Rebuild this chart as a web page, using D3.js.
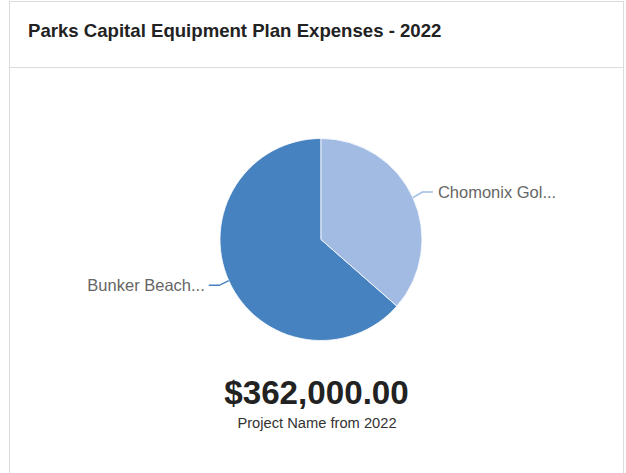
<!DOCTYPE html>
<html>
<head>
<meta charset="utf-8">
<script src="https://cdn.jsdelivr.net/npm/d3@7"></script>
<style>
  html, body { margin: 0; padding: 0; background: #fff; }
  svg { display: block; font-family: "Liberation Sans", Arial, sans-serif; }
</style>
</head>
<body>
<svg id="chart" width="626" height="473"></svg>
<script>
// Project expenses for 2022
const projects = ["Bunker Beach Park", "Chomonix Golf Course"];
const shortLabels = ["Bunker Beach...", "Chomonix Gol..."];
const amounts = [230000, 132000];
const sliceColors = ["#4682c0", "#a2bbe3"];

const title = "Parks Capital Equipment Plan Expenses - 2022";
const subtitle = "Project Name from 2022";

const svg = d3.select("#chart");
const W = 626, H = 473;

// card frame
svg.append("rect")
  .attr("x", 9.5).attr("y", 1.5)
  .attr("width", 614).attr("height", H + 10)
  .attr("fill", "#fff").attr("stroke", "#dcdcdf").attr("stroke-width", 1);
svg.append("line")
  .attr("x1", 9.5).attr("x2", 623.5).attr("y1", 67.5).attr("y2", 67.5)
  .attr("stroke", "#dcdcdf");

svg.append("text")
  .attr("x", 28).attr("y", 37)
  .attr("font-size", 18.6).attr("font-weight", "bold").attr("fill", "#222")
  .text(title);

// pie
const cx = 321, cy = 239.5, r = 101;
const data = projects.map((p, i) => ({ name: p, label: shortLabels[i], value: amounts[i], color: sliceColors[i] }));

// larger slice runs counter-clockwise from 12 o'clock
const pie = d3.pie().value(d => d.value).sort(null)
  .startAngle(2 * Math.PI).endAngle(0);
const arcs = pie(data);
const arc = d3.arc().innerRadius(0).outerRadius(r);

const g = svg.append("g").attr("transform", `translate(${cx},${cy})`);
g.selectAll("path.slice").data(arcs).join("path")
  .attr("class", "slice")
  .attr("d", arc)
  .attr("fill", d => d.data.color)
  .attr("stroke", "#fff").attr("stroke-width", 0.8);

// connector lines and labels
arcs.forEach((a, i) => {
  // point where the connector leaves the pie
  const ang = i === 0 ? 2 * Math.PI - 1.99 : 1.143;
  const x0 = Math.sin(ang) * r, y0 = -Math.cos(ang) * r;
  const right = x0 > 0;
  const x1 = x0 + (right ? 9.5 : -9.5), y1 = y0 + (right ? -5.5 : 4.7);
  const x2 = x1 + (right ? 10.5 : -10.5);
  g.append("path")
    .attr("d", `M${x0},${y0}L${x1},${y1}L${x2},${y1}`)
    .attr("fill", "none").attr("stroke", a.data.color).attr("stroke-width", 1.5);
  g.append("text")
    .attr("x", x2 + (right ? 5 : -4))
    .attr("y", y1)
    .attr("dy", "0.35em")
    .attr("text-anchor", right ? "start" : "end")
    .attr("font-size", 16.5).attr("fill", "#666")
    .text(a.data.label);
});

// total
const total = d3.sum(amounts);
const fmt = d3.format("$,.2f");
svg.append("text")
  .attr("x", 316.5).attr("y", 404)
  .attr("text-anchor", "middle")
  .attr("font-size", 33.2).attr("font-weight", "bold").attr("fill", "#222")
  .text(fmt(total));
svg.append("text")
  .attr("x", 317).attr("y", 428)
  .attr("text-anchor", "middle")
  .attr("font-size", 14.7).attr("fill", "#333")
  .text(subtitle);
</script>
</body>
</html>
